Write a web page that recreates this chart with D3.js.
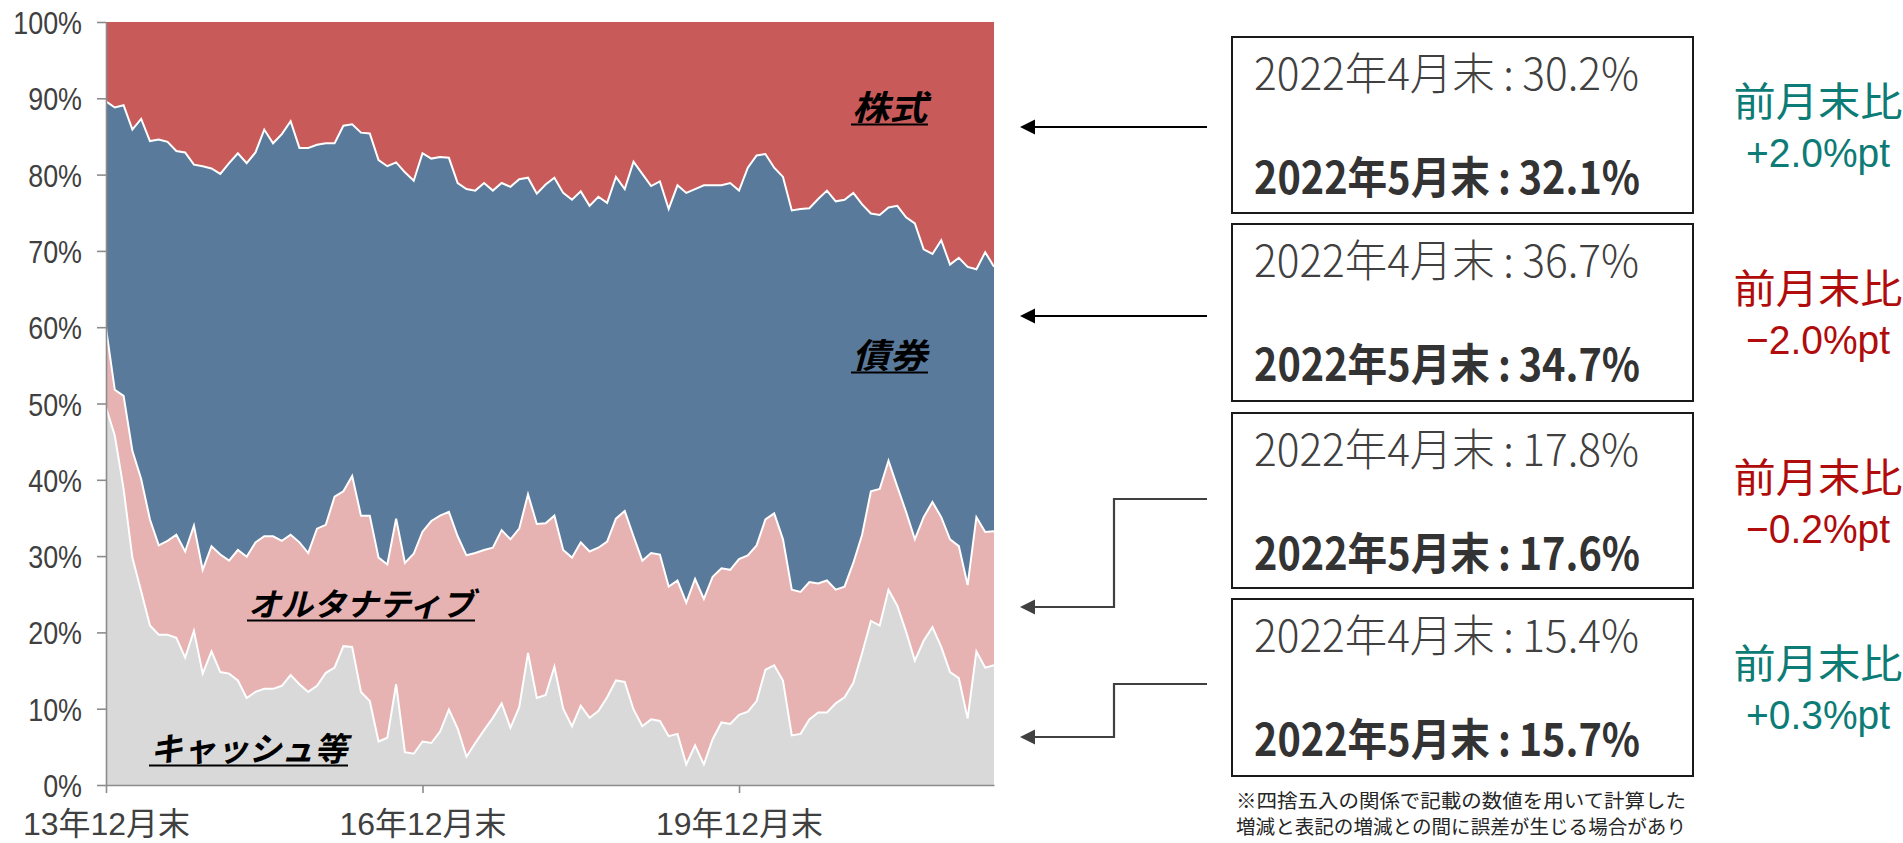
<!DOCTYPE html>
<html><head><meta charset="utf-8">
<script src="https://cdn.jsdelivr.net/npm/d3@7"></script>
<style>
html,body{margin:0;padding:0;background:#fff;overflow:hidden;}
svg{display:block;font-family:"Noto Sans CJK JP","Noto Sans",sans-serif;}
</style></head><body>
<svg id="chart" width="1903" height="843"></svg>
<script>
// ---------------- data ----------------
const startYear = 2013, startMonth = 12, monthCount = 102;   // 2013/12 .. 2022/5
const seriesKeys   = ["cash", "alternative", "bond", "equity"];
const seriesNames  = ["キャッシュ等", "オルタナティブ", "債券", "株式"];
const seriesColors = ["#d9d9d9", "#e6b2b2", "#5a7a9b", "#c95a5a"];

const cash = [49.5,45.8,38.8,29.8,25.4,20.9,19.7,19.7,19.3,16.7,
  20.2,14.6,17.5,14.8,14.6,13.7,11.4,12.2,12.6,12.6,
  13.0,14.4,13.2,12.2,13.0,14.7,15.4,18.2,18.1,12.2,
  11.0,5.7,6.2,13.2,4.3,4.1,5.7,5.5,7.0,9.9,
  7.4,3.7,5.5,7.2,8.8,10.7,7.5,10.2,17.3,11.4,
  11.8,15.5,10.0,7.7,10.4,8.8,9.7,11.5,13.7,13.5,
  9.9,7.7,8.6,8.4,6.4,6.7,2.7,5.2,2.7,6.0,
  8.2,8.0,9.2,9.6,11.0,15.1,15.7,13.7,6.5,6.7,
  8.6,9.5,9.5,10.7,11.5,13.4,17.3,21.5,20.9,25.6,
  23.5,20.1,16.3,18.9,20.7,18.1,14.8,14.0,8.7,17.5,
  15.4,15.7];
const alternative = [10.4,6.0,12.2,14.0,14.7,13.9,11.7,12.3,13.5,13.9,
  13.8,13.6,13.8,15.4,14.8,17.1,18.5,19.6,20.0,20.0,
  19.0,18.4,18.6,18.2,20.6,19.4,22.4,20.3,22.4,23.1,
  24.3,24.1,22.7,21.7,24.8,26.2,27.5,29.1,28.3,25.9,
  25.2,26.4,24.9,23.6,22.3,22.7,24.7,23.4,20.8,22.8,
  22.5,19.8,20.8,22.1,21.4,21.8,21.4,20.4,21.2,22.4,
  22.7,21.7,21.8,21.8,19.6,20.1,21.2,21.8,21.7,21.3,
  20.2,20.2,20.4,20.5,20.4,19.7,19.9,18.5,19.1,18.6,
  18.0,16.9,17.3,14.9,14.5,15.7,15.5,17.0,17.9,16.9,
  15.6,15.7,15.9,16.2,16.4,17.0,17.4,17.3,17.5,17.6,
  17.8,17.6];
const bond = [29.7,37.0,38.1,42.1,47.2,49.6,53.2,52.3,50.3,52.3,
  47.3,52.9,49.5,49.9,52.1,52.0,51.6,51.1,53.3,51.5,
  53.3,54.2,51.7,53.1,50.3,50.0,46.3,47.9,46.1,50.2,
  50.1,52.1,52.2,46.7,51.2,48.9,49.6,47.5,47.0,46.4,
  46.3,48.0,47.5,48.1,46.8,45.5,46.2,45.8,41.5,43.3,
  44.4,44.3,46.8,46.9,46.0,45.3,46.0,44.4,44.8,42.2,
  49.1,50.7,48.1,48.9,49.5,51.8,53.7,51.1,54.2,51.3,
  50.2,50.7,48.3,50.8,51.1,47.9,45.3,47.5,49.7,50.2,
  49.0,50.4,51.1,50.9,50.7,48.5,43.3,36.4,35.9,33.2,
  36.8,38.6,41.4,35.1,32.5,36.3,36.0,37.8,41.7,32.5,
  36.7,34.7];
const equity = [10.4,11.2,10.9,14.1,12.7,15.6,15.4,15.7,16.9,17.1,
  18.7,18.9,19.2,19.9,18.5,17.2,18.5,17.1,14.1,15.9,
  14.7,13.0,16.5,16.5,16.1,15.9,15.9,13.6,13.4,14.5,
  14.6,18.1,18.9,18.4,19.7,20.8,17.2,17.9,17.7,17.8,
  21.1,21.9,22.1,21.1,22.1,21.1,21.6,20.6,20.4,22.5,
  21.3,20.4,22.4,23.3,22.2,24.1,22.9,23.7,20.3,21.9,
  18.3,19.9,21.5,20.9,24.5,21.4,22.4,21.9,21.4,21.4,
  21.4,21.1,22.1,19.1,17.5,17.3,19.1,20.3,24.7,24.5,
  24.4,23.2,22.1,23.5,23.3,22.4,23.9,25.1,25.3,24.3,
  24.1,25.6,26.4,29.8,30.4,28.6,31.8,30.9,32.1,32.4,
  30.2,32.1];

const xTickIndex  = [0, 36, 72];
const xTickLabels = ["13年12月末", "16年12月末", "19年12月末"];
const yTicks = [0, 0.1, 0.2, 0.3, 0.4, 0.5, 0.6, 0.7, 0.8, 0.9, 1.0];

// right-hand summary (order: 株式, 債券, オルタナティブ, キャッシュ等)
const aprValues  = [30.2, 36.7, 17.8, 15.4];
const mayValues  = [32.1, 34.7, 17.6, 15.7];
const diffValues = [2.0, -2.0, -0.2, 0.3];
const noteLines = ["※四捨五入の関係で記載の数値を用いて計算した",
                   "増減と表記の増減との間に誤差が生じる場合があり",
                   "ます。"];

// ---------------- build ----------------
const months = [];
for (let i = 0; i < monthCount; i++) {
  const m0 = startMonth - 1 + i;
  months.push({ y: startYear + Math.floor(m0 / 12), m: (m0 % 12) + 1 });
}
const rows = months.map((d, i) => ({
  idx: i, cash: cash[i], alternative: alternative[i], bond: bond[i], equity: equity[i]
}));

const svg = d3.select("#chart");
const X0 = 106, X1 = 994, Y0 = 785, Y1 = 22;
const x = d3.scaleLinear().domain([0, monthCount - 1]).range([X0, X1]);
const y = d3.scaleLinear().domain([0, 1]).range([Y0, Y1]);

const stacked = d3.stack().keys(seriesKeys).offset(d3.stackOffsetExpand)(rows);
const area = d3.area().x((d, i) => x(i)).y0(d => y(d[0])).y1(d => y(d[1]));
const topLine = d3.line().x((d, i) => x(i)).y(d => y(d[1]));

svg.append("g").selectAll("path").data(stacked).join("path")
  .attr("d", area).attr("fill", (d, i) => seriesColors[i]);
svg.append("g").selectAll("path").data(stacked.slice(0, 3)).join("path")
  .attr("d", topLine).attr("fill", "none").attr("stroke", "#fff")
  .attr("stroke-width", 2).attr("stroke-linejoin", "miter");

function fit(sel, w) {
  sel.attr("textLength", w).attr("lengthAdjust", "spacingAndGlyphs");
}
function condense(sel, f) {
  sel.each(function () {
    const L = this.getComputedTextLength();
    this.setAttribute("textLength", L * f);
    this.setAttribute("lengthAdjust", "spacingAndGlyphs");
  });
}
const latinFirst = "'Liberation Sans','Noto Sans CJK JP',sans-serif";

// axes
const gY = svg.append("g").attr("transform", `translate(${X0},0)`)
  .call(d3.axisLeft(y).tickValues(yTicks).tickFormat(d3.format(".0%")).tickSize(9).tickSizeOuter(0));
gY.attr("font-family", null).attr("font-size", null);
gY.select(".domain").attr("stroke", "#8c8c8c").attr("stroke-width", 1.6);
gY.selectAll(".tick line").attr("stroke", "#8c8c8c").attr("stroke-width", 1.6);
gY.selectAll(".tick text").attr("x", -24).attr("dy", "0.36em")
  .attr("font-size", 32).attr("fill", "#404040").attr("font-family", latinFirst);
condense(gY.selectAll(".tick text"), 0.84);

const gX = svg.append("g").attr("transform", `translate(0,${Y0})`)
  .call(d3.axisBottom(x).tickValues(xTickIndex).tickFormat((d, i) => xTickLabels[i]).tickSize(8).tickSizeOuter(0));
gX.attr("font-family", null).attr("font-size", null);
gX.select(".domain").attr("stroke", "#8c8c8c").attr("stroke-width", 1.6);
gX.selectAll(".tick line").attr("stroke", "#8c8c8c").attr("stroke-width", 1.6);
gX.selectAll(".tick text").attr("y", 50).attr("dy", 0)
  .attr("font-size", 32).attr("fill", "#404040").attr("font-family", latinFirst);
fit(gX.selectAll(".tick text"), 167);

// series labels inside the chart
const seriesLabelPos = [
  { x: 150, y: 761, w: 197, fs: 33 },
  { x: 248, y: 616, w: 226, fs: 32 },
  { x: 852, y: 368, w: 75, fs: 34 },
  { x: 852, y: 120, w: 75, fs: 34 }
];
seriesNames.forEach((name, i) => {
  const p = seriesLabelPos[i];
  const t = svg.append("text").attr("x", p.x).attr("y", p.y)
    .attr("font-size", p.fs).attr("font-weight", "bold").attr("font-style", "italic")
    .attr("fill", "#000").text(name);
  fit(t, p.w);
  svg.append("line").attr("x1", p.x - 1).attr("x2", p.x + p.w + 1)
    .attr("y1", p.y + 4.5).attr("y2", p.y + 4.5)
    .attr("stroke", "#000").attr("stroke-width", 2.2);
});

// right boxes
const boxTops = [37, 224, 413, 599];
const boxH = [176, 177, 175, 177];
const BX = 1232, BW = 461;
const fmt1 = d3.format(".1f");
const teal = "#0d7b76", red = "#b00c0c";
boxTops.forEach((top, i) => {
  svg.append("rect").attr("x", BX).attr("y", top).attr("width", BW).attr("height", boxH[i])
    .attr("fill", "#fff").attr("stroke", "#1a1a1a").attr("stroke-width", 2);
  const t1 = svg.append("text").attr("x", 1254).attr("y", top + 53)
    .attr("font-size", 44).attr("font-weight", 300).attr("fill", "#404040")
    .text(`2022年4月末\u2009:\u2009${fmt1(aprValues[i])}%`);
  fit(t1, 385);
  const t2 = svg.append("text").attr("x", 1254).attr("y", top + 157)
    .attr("font-size", 44).attr("font-weight", "bold").attr("fill", "#333")
    .text(`2022年5月末\u2009:\u2009${fmt1(mayValues[i])}%`);
  fit(t2, 386);
  const col = diffValues[i] >= 0 ? teal : red;
  const l1 = svg.append("text").attr("x", 1818).attr("y", top + 79).attr("text-anchor", "middle")
    .attr("font-size", 40).attr("fill", col).attr("font-family", latinFirst).text("前月末比");
  fit(l1, 169);
  const sign = diffValues[i] >= 0 ? "+" : "−";
  const l2 = svg.append("text").attr("x", 1818).attr("y", top + 130).attr("text-anchor", "middle")
    .attr("font-size", 41).attr("fill", col).attr("font-family", latinFirst)
    .text(`${sign}${fmt1(Math.abs(diffValues[i]))}%pt`);
  fit(l2, 144);
});

// arrows
function arrowHead(xTip, yTip, color) {
  svg.append("path")
    .attr("d", `M${xTip},${yTip} L${xTip + 15},${yTip - 7.5} L${xTip + 15},${yTip + 7.5} Z`)
    .attr("fill", color);
}
const arrowPaths = [
  { pts: [[1207, 127], [1030, 127]], tip: [1020, 127], c: "#000" },
  { pts: [[1207, 316], [1030, 316]], tip: [1020, 316], c: "#000" },
  { pts: [[1207, 499], [1114, 499], [1114, 607], [1030, 607]], tip: [1020, 607], c: "#404040" },
  { pts: [[1207, 684], [1114, 684], [1114, 737], [1030, 737]], tip: [1020, 737], c: "#404040" }
];
arrowPaths.forEach(a => {
  svg.append("path").attr("d", d3.line()(a.pts)).attr("fill", "none")
    .attr("stroke", a.c).attr("stroke-width", 2.2);
  arrowHead(a.tip[0], a.tip[1], a.c);
});

// note
const noteY = [808, 834, 860];
noteLines.forEach((s, i) => {
  const t = svg.append("text").attr("x", 1236).attr("y", noteY[i])
    .attr("font-size", 19.5).attr("fill", "#262626").text(s);
  if (i < 2) fit(t, 450);
});
</script>
</body></html>
